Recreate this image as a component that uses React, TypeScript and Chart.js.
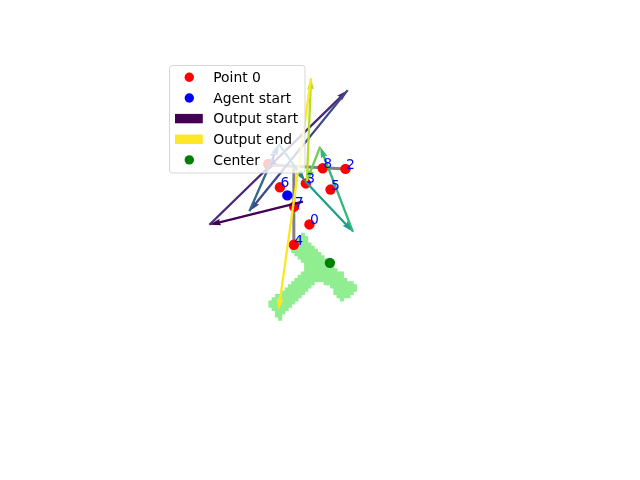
import React, { useEffect, useRef } from "react";
import { Chart, registerables } from "chart.js";

Chart.register(...registerables);

// ---- data (grid units: one mask cell = 1 unit, y grows downward) ----
const POINT_LABELS = ["0", "1", "2", "3", "4", "5", "6", "7", "8"];
const POINT_X = [12.5, -0.2, 23.6, 11.4, 7.7, 19.0, 3.4, 7.8, 16.6];
const POINT_Y = [-2.7, -21.4, -19.9, -15.4, 3.6, -13.5, -14.2, -8.2, -20.1];

const AGENT_START_X = [5.7];
const AGENT_START_Y = [-11.7];

const CENTER_X = [18.8];
const CENTER_Y = [9.2];

// output trajectory (drawn as chained arrows)
const OUTPUT_X = [10.5, -18.3, 24.3, -6.0, 3.1, 11.2, 25.9, 15.8, 11.7, 13.0, 3.0];
const OUTPUT_Y = [-9.8, -2.6, -44.3, -6.8, -27.6, -16.1, -0.4, -26.8, -16.1, -48.0, 23.8];

// grey skeleton path
const PATH_H_X = [-0.9, 25.2];
const PATH_H_Y = [-21.2, -19.8];
const PATH_V_X = [7.7, 7.7];
const PATH_V_Y = [-21.1, 3.6];

// shape mask: per row, list of [firstCol, lastCol]
const MASK_ROWS: number[][][] = [
  [[10, 10]],
  [[9, 11]],
  [[8, 11]],
  [[7, 12]],
  [[7, 13]],
  [[7, 14]],
  [[8, 15]],
  [[9, 16]],
  [[10, 17]],
  [[11, 18]],
  [[11, 19]],
  [[11, 20]],
  [[10, 22]],
  [[9, 22]],
  [[8, 23]],
  [[7, 13], [17, 25]],
  [[6, 12], [19, 26]],
  [[5, 11], [20, 26]],
  [[4, 10], [20, 25]],
  [[2, 9], [21, 24]],
  [[1, 8], [22, 22]],
  [[0, 7]],
  [[0, 6]],
  [[1, 5]],
  [[2, 4]],
  [[2, 3]],
  [[3, 3]],
];

const LEGEND_LABELS = ["Point 0", "Agent start", "Output start", "Output end", "Center"];

// ---- styles ----
const VIRIDIS = [
  "#440154", "#482878", "#3e4989", "#31688e", "#26828e",
  "#1f9e89", "#35b779", "#6ece58", "#b5de2b", "#fde725",
];
const CELL_PX = 3.3;
const ORIGIN_PX_X = 268;
const ORIGIN_PX_Y = 233;
const W = 640;
const H = 480;
const FONT = "'DejaVu Sans', 'Liberation Sans', sans-serif";

function buildCells() {
  const pts: { x: number; y: number }[] = [];
  MASK_ROWS.forEach((ranges, r) => {
    ranges.forEach(([a, b]) => {
      for (let c = a; c <= b; c++) pts.push({ x: c + 0.5, y: r + 0.5 });
    });
  });
  return pts;
}

const arrowPlugin = {
  id: "arrowsLabelsLegend",
  afterDatasetsDraw(chart: any) {
    const ctx = chart.ctx as CanvasRenderingContext2D;
    const xs = chart.scales.x;
    const ys = chart.scales.y;
    // arrows (quiver-like)
    const w = 2.3;
    const hw = 1.5 * w;
    const hl = 5 * w;
    const hal = 4.5 * w;
    ctx.save();
    for (let i = 0; i < OUTPUT_X.length - 1; i++) {
      const x0 = xs.getPixelForValue(OUTPUT_X[i]);
      const y0 = ys.getPixelForValue(OUTPUT_Y[i]);
      const x1 = xs.getPixelForValue(OUTPUT_X[i + 1]);
      const y1 = ys.getPixelForValue(OUTPUT_Y[i + 1]);
      const dx = x1 - x0;
      const dy = y1 - y0;
      const L = Math.hypot(dx, dy);
      const ux = dx / L;
      const uy = dy / L;
      const px = -uy;
      const py = ux;
      const P = (along: number, side: number) => [x0 + ux * along + px * side, y0 + uy * along + py * side];
      const poly = [
        P(0, w / 2),
        P(L - hal, w / 2),
        P(L - hl, hw),
        P(L, 0),
        P(L - hl, -hw),
        P(L - hal, -w / 2),
        P(0, -w / 2),
      ];
      ctx.beginPath();
      ctx.moveTo(poly[0][0], poly[0][1]);
      for (let k = 1; k < poly.length; k++) ctx.lineTo(poly[k][0], poly[k][1]);
      ctx.closePath();
      ctx.fillStyle = VIRIDIS[i % VIRIDIS.length];
      ctx.fill();
    }
    // point labels
    ctx.fillStyle = "#0000ff";
    ctx.font = `13.9px ${FONT}`;
    ctx.textAlign = "left";
    ctx.textBaseline = "alphabetic";
    POINT_LABELS.forEach((lab, i) => {
      const x = xs.getPixelForValue(POINT_X[i]);
      const y = ys.getPixelForValue(POINT_Y[i]);
      ctx.fillText(lab, x + 0.5, y);
    });
    ctx.restore();
  },
  afterDraw(chart: any) {
    const ctx = chart.ctx as CanvasRenderingContext2D;
    ctx.save();
    const bx = 169.5, by = 65.5, bw = 135.5, bh = 107.5, rad = 2.8;
    ctx.beginPath();
    ctx.moveTo(bx + rad, by);
    ctx.lineTo(bx + bw - rad, by);
    ctx.arcTo(bx + bw, by, bx + bw, by + rad, rad);
    ctx.lineTo(bx + bw, by + bh - rad);
    ctx.arcTo(bx + bw, by + bh, bx + bw - rad, by + bh, rad);
    ctx.lineTo(bx + rad, by + bh);
    ctx.arcTo(bx, by + bh, bx, by + bh - rad, rad);
    ctx.lineTo(bx, by + rad);
    ctx.arcTo(bx, by, bx + rad, by, rad);
    ctx.closePath();
    ctx.fillStyle = "rgba(255,255,255,0.8)";
    ctx.fill();
    ctx.strokeStyle = "rgba(204,204,204,0.8)";
    ctx.lineWidth = 1;
    ctx.stroke();

    const rowY0 = 77.3;
    const dyRow = 20.65;
    const kinds = ["circle", "circle", "rect", "rect", "circle"];
    const colors = ["#ff0000", "#0000ff", VIRIDIS[0], VIRIDIS[VIRIDIS.length - 1], "#008000"];
    ctx.font = `13.9px ${FONT}`;
    ctx.textAlign = "left";
    ctx.textBaseline = "alphabetic";
    LEGEND_LABELS.forEach((lab, i) => {
      const cy = rowY0 + i * dyRow;
      ctx.fillStyle = colors[i];
      if (kinds[i] === "circle") {
        ctx.beginPath();
        ctx.arc(189.3, cy, 4.7, 0, Math.PI * 2);
        ctx.fill();
      } else {
        ctx.fillRect(175, cy - 4.7, 27.8, 9.4);
      }
      ctx.fillStyle = "#000000";
      ctx.fillText(lab, 213.2, cy + 4.6);
    });
    ctx.restore();
  },
};

export default function App() {
  const ref = useRef<HTMLCanvasElement | null>(null);
  useEffect(() => {
    if (!ref.current) return;
    const toXY = (xs: number[], ys: number[]) => xs.map((x, i) => ({ x, y: ys[i] }));
    const cellRadius = (CELL_PX + 0.8) / Math.SQRT2;
    const chart = new Chart(ref.current, {
      type: "scatter",
      data: {
        datasets: [
          {
            label: "mask",
            data: buildCells(),
            pointStyle: "rect",
            pointRadius: cellRadius,
            pointHoverRadius: cellRadius,
            pointBorderWidth: 0,
            backgroundColor: "#90ee90",
            borderColor: "#90ee90",
            order: 10,
          },
          {
            label: "pathH",
            data: toXY(PATH_H_X, PATH_H_Y),
            showLine: true,
            pointRadius: 0,
            borderColor: "#808080",
            borderWidth: 3,
            order: 9,
          },
          {
            label: "pathV",
            data: toXY(PATH_V_X, PATH_V_Y),
            showLine: true,
            pointRadius: 0,
            borderColor: "#808080",
            borderWidth: 3,
            order: 9,
          },
          {
            label: "Point 0",
            data: toXY(POINT_X, POINT_Y),
            pointRadius: 5.2,
            pointBorderWidth: 0,
            backgroundColor: "#ff0000",
            order: 8,
          },
          {
            label: "Agent start",
            data: toXY(AGENT_START_X, AGENT_START_Y),
            pointRadius: 5.2,
            pointBorderWidth: 0,
            backgroundColor: "#0000ff",
            order: 7,
          },
          {
            label: "Center",
            data: toXY(CENTER_X, CENTER_Y),
            pointRadius: 5.2,
            pointBorderWidth: 0,
            backgroundColor: "#008000",
            order: 6,
          },
        ],
      },
      options: {
        responsive: false,
        animation: false,
        events: [],
        layout: { padding: 0 },
        plugins: { legend: { display: false }, tooltip: { enabled: false } },
        scales: {
          x: {
            type: "linear",
            display: false,
            min: -ORIGIN_PX_X / CELL_PX,
            max: (W - ORIGIN_PX_X) / CELL_PX,
          },
          y: {
            type: "linear",
            display: false,
            reverse: true,
            min: -ORIGIN_PX_Y / CELL_PX,
            max: (H - ORIGIN_PX_Y) / CELL_PX,
          },
        },
      },
      plugins: [arrowPlugin],
    });
    return () => chart.destroy();
  }, []);
  return (
    <div style={{ position: "fixed", left: 0, top: 0, width: W, height: H, background: "#ffffff" }}>
      <canvas ref={ref} width={W} height={H} style={{ display: "block" }} />
    </div>
  );
}
